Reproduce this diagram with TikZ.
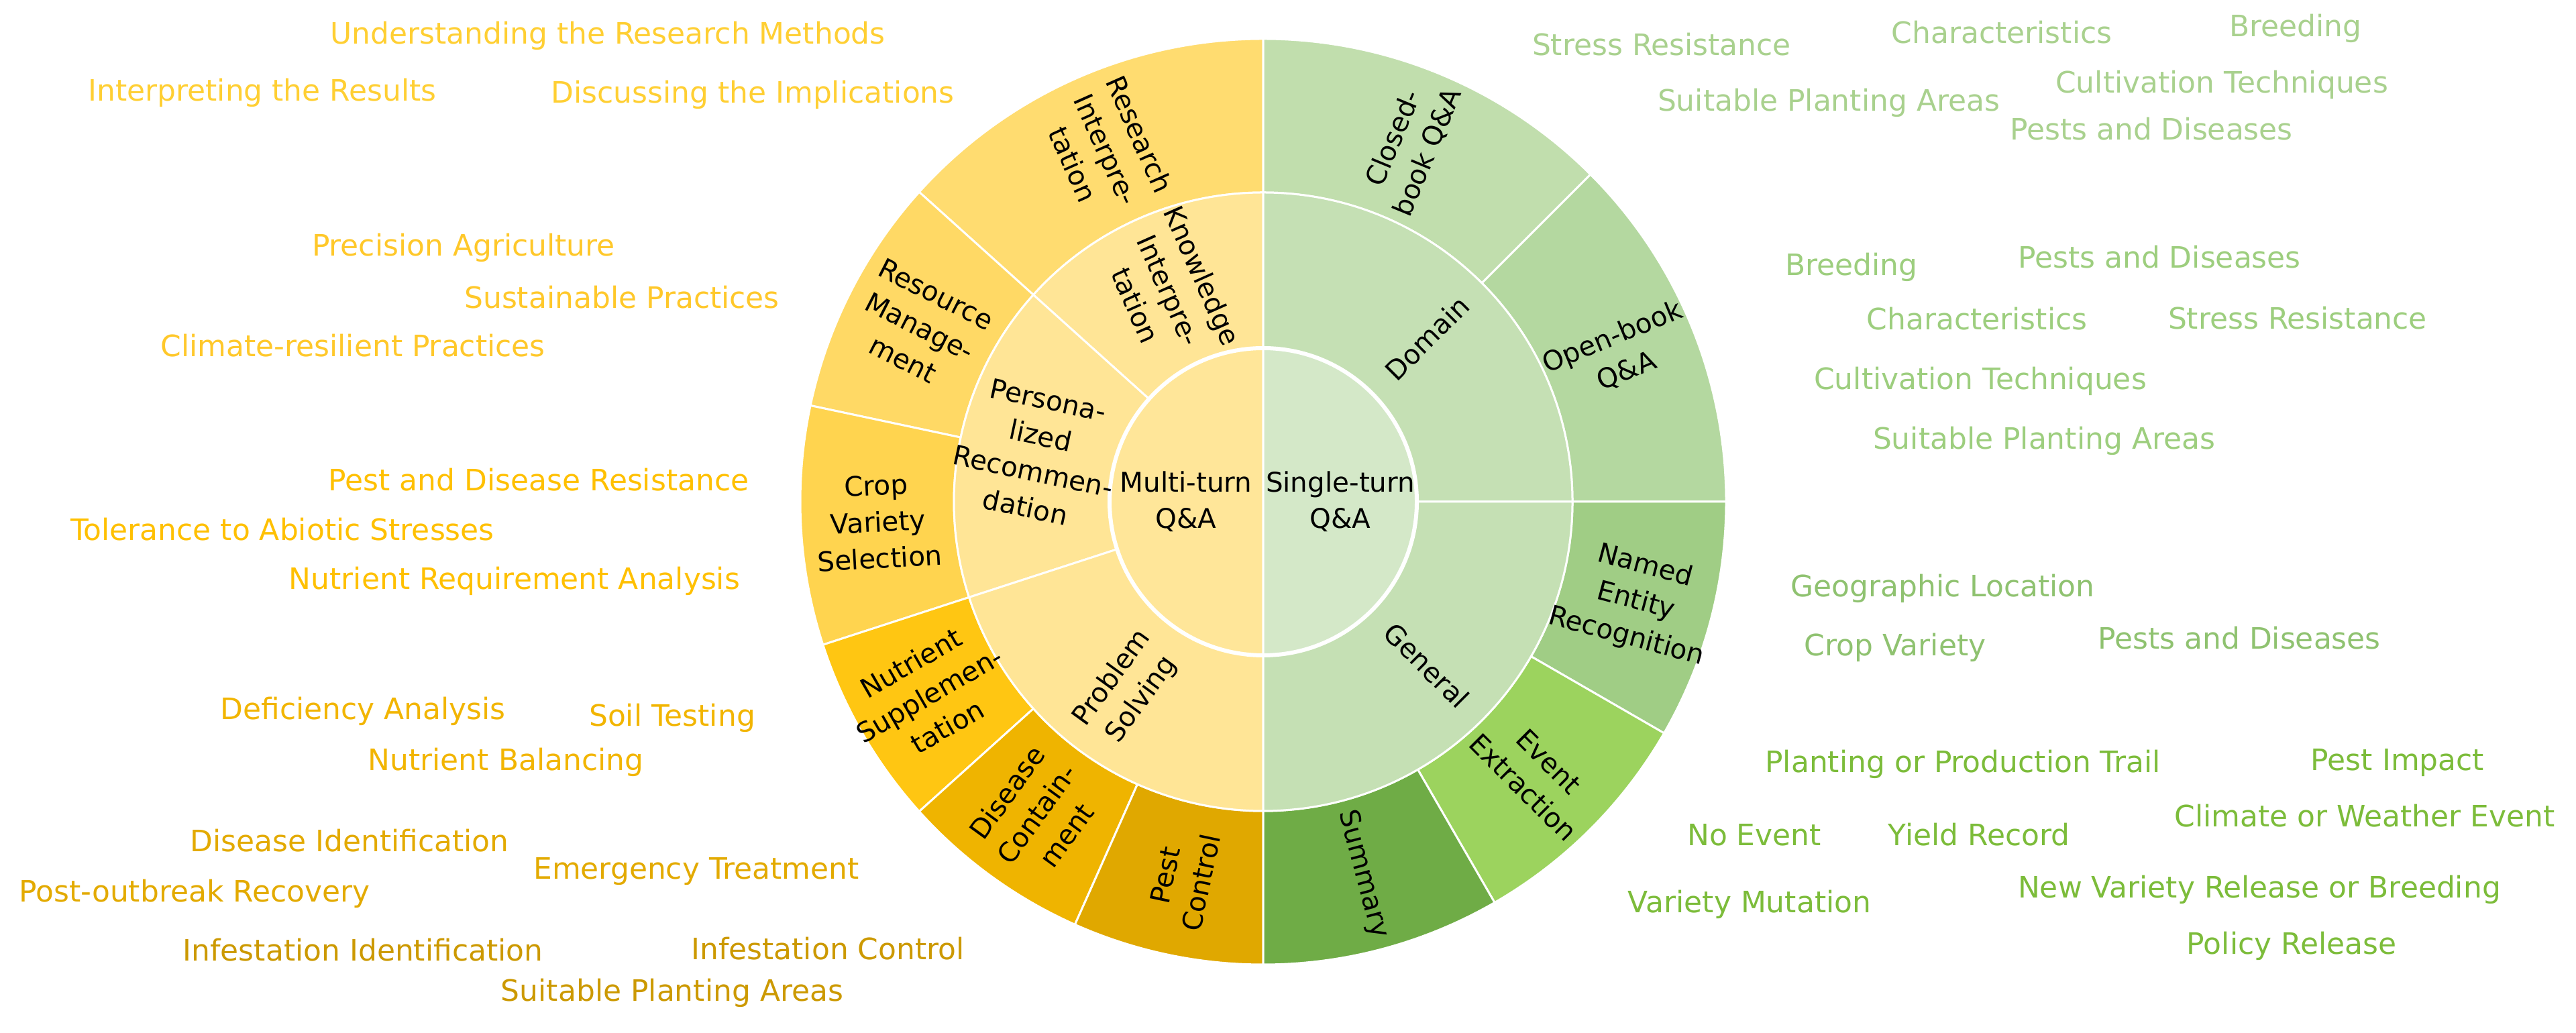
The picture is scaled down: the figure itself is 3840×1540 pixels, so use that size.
\documentclass[tikz,border=0pt]{standalone}
\usepackage{fontspec}
\setmainfont{DejaVu Sans}
% segment fills
\definecolor{cMT}{HTML}{FFE699}
\definecolor{cMid}{HTML}{FFE596}
\definecolor{cRI}{HTML}{FFDC70}
\definecolor{cRM}{HTML}{FFD965}
\definecolor{cCV}{HTML}{FFD44F}
\definecolor{cNS}{HTML}{FFC612}
\definecolor{cDC}{HTML}{EFB400}
\definecolor{cPC}{HTML}{E0A800}
\definecolor{cST}{HTML}{D4E8C8}
\definecolor{cDom}{HTML}{C5E0B4}
\definecolor{cCB}{HTML}{C1DEAD}
\definecolor{cOB}{HTML}{B4D8A0}
\definecolor{cNE}{HTML}{A0CD85}
\definecolor{cEE}{HTML}{9CD35E}
\definecolor{cSU}{HTML}{6FAC46}
% leaf text colours
\definecolor{tRI}{HTML}{FFCF33}
\definecolor{tRM}{HTML}{FFC82A}
\definecolor{tCV}{HTML}{FFC000}
\definecolor{tNS}{HTML}{F2B500}
\definecolor{tDC}{HTML}{E3AA00}
\definecolor{tPC}{HTML}{CC9900}
\definecolor{tCB}{HTML}{A9D18E}
\definecolor{tOB}{HTML}{9DCE7E}
\definecolor{tNE}{HTML}{8FC270}
\definecolor{tEE}{HTML}{7CBC3A}
\newcommand{\sbwedge}[5]{%
  \filldraw[seg, fill=#5] (#1:#3) arc[start angle=#1, end angle=#2, radius=#3]
    -- (#2:#4) arc[start angle=#2, end angle=#1, radius=#4] -- cycle;}
\begin{document}
\begin{tikzpicture}[x=0.01cm,y=0.01cm,
  seg/.style={draw=white, line width=0.03cm, line join=round},
  leaf/.style={font=\fontsize{12.5}{15}\selectfont, anchor=mid, inner sep=0pt},
  rlab/.style={font=\fontsize{11.5}{15.5}\selectfont, align=center, inner sep=0pt, text=black}]
\useasboundingbox (0,0) rectangle (3840,1540);
\fill[white] (0,0) rectangle (3840,1540);
\begin{scope}[shift={(1883,792)}]
  % outer ring, left (multi-turn)
  \sbwedge{90}{138}{461}{690}{cRI}
  \sbwedge{138}{168}{461}{690}{cRM}
  \sbwedge{168}{198}{461}{690}{cCV}
  \sbwedge{198}{222}{461}{690}{cNS}
  \sbwedge{222}{246}{461}{690}{cDC}
  \sbwedge{246}{270}{461}{690}{cPC}
  % outer ring, right (single-turn)
  \sbwedge{45}{90}{461}{690}{cCB}
  \sbwedge{0}{45}{461}{690}{cOB}
  \sbwedge{-30}{0}{461}{690}{cNE}
  \sbwedge{-60}{-30}{461}{690}{cEE}
  \sbwedge{-90}{-60}{461}{690}{cSU}
  % middle ring
  \sbwedge{90}{138}{229}{461}{cMid}
  \sbwedge{138}{198}{229}{461}{cMid}
  \sbwedge{198}{270}{229}{461}{cMid}
  \sbwedge{0}{90}{229}{461}{cDom}
  \sbwedge{-90}{0}{229}{461}{cDom}
  % inner circle
  \filldraw[seg, fill=cMT] (0,0) -- (90:229) arc[start angle=90, end angle=270, radius=229] -- cycle;
  \filldraw[seg, fill=cST] (0,0) -- (-90:229) arc[start angle=-90, end angle=90, radius=229] -- cycle;
  \draw[white, line width=0.06cm] (0,0) circle[radius=229];
  % labels: inner
  \node[rlab] (mt) at (180:115) {Multi-turn\\Q\&A};
  \node[rlab] (st) at (0:115) {Single-turn\\Q\&A};
  % labels: middle
  \node[rlab, rotate=-66] (ki) at (114:345) {Knowledge\\Interpre-\\tation};
  \node[rlab, rotate=-12] (pr) at (168:345) {Persona-\\lized\\Recommen-\\dation};
  \node[rlab, rotate=54] (ps) at (234:345) {Problem\\Solving};
  \node[rlab, rotate=45] (dm) at (45:345) {Domain};
  \node[rlab, rotate=-45] (gn) at (-45:345) {General};
  % labels: outer
  \node[rlab, rotate=-66] (ri) at (114:575) {Research\\Interpre-\\tation};
  \node[rlab, rotate=-27] (rm) at (153:575) {Resource\\Manage-\\ment};
  \node[rlab, rotate=3] (cv) at (183:575) {Crop\\Variety\\Selection};
  \node[rlab, rotate=30] (ns) at (210:575) {Nutrient\\Supplemen-\\tation};
  \node[rlab, rotate=54] (dc) at (234:575) {Disease\\Contain-\\ment};
  \node[rlab, rotate=78] (pc) at (258:575) {Pest\\Control};
  \node[rlab, rotate=67.5] (cb) at (67.5:575) {Closed-\\book Q\&A};
  \node[rlab, rotate=22.5] (ob) at (22.5:575) {Open-book\\Q\&A};
  \node[rlab, rotate=-15] (ne) at (-15:575) {Named\\Entity\\Recognition};
  \node[rlab, rotate=-45] (ee) at (-45:575) {Event\\Extraction};
  \node[rlab, rotate=-75] (su) at (-75:575) {Summary};
\end{scope}
% leaves, left
\node[leaf, text=tRI] (l1) at (906,1484) {Understanding the Research Methods};
\node[leaf, text=tRI] (l2) at (391,1399) {Interpreting the Results};
\node[leaf, text=tRI] (l3) at (1122,1396) {Discussing the Implications};
\node[leaf, text=tRM] (l4) at (691,1168) {Precision Agriculture};
\node[leaf, text=tRM] (l5) at (927,1090) {Sustainable Practices};
\node[leaf, text=tRM] (l6) at (526,1018) {Climate-resilient Practices};
\node[leaf, text=tCV] (l7) at (803,818) {Pest and Disease Resistance};
\node[leaf, text=tCV] (l8) at (421,744) {Tolerance to Abiotic Stresses};
\node[leaf, text=tCV] (l9) at (767,671) {Nutrient Requirement Analysis};
\node[leaf, text=tNS] (l10) at (541,477) {Deficiency Analysis};
\node[leaf, text=tNS] (l11) at (1002,467) {Soil Testing};
\node[leaf, text=tNS] (l12) at (754,401) {Nutrient Balancing};
\node[leaf, text=tDC] (l13) at (521,280) {Disease Identification};
\node[leaf, text=tDC] (l14) at (1038,239) {Emergency Treatment};
\node[leaf, text=tDC] (l15) at (290,205) {Post-outbreak Recovery};
\node[leaf, text=tPC] (l16) at (541,117) {Infestation Identification};
\node[leaf, text=tPC] (l17) at (1234,119) {Infestation Control};
\node[leaf, text=tPC] (l18) at (1002,57) {Suitable Planting Areas};
% leaves, right
\node[leaf, text=tCB] (r1) at (2477,1467) {Stress Resistance};
\node[leaf, text=tCB] (r2) at (2984,1485) {Characteristics};
\node[leaf, text=tCB] (r3) at (3422,1495) {Breeding};
\node[leaf, text=tCB] (r4) at (2726,1384) {Suitable Planting Areas};
\node[leaf, text=tCB] (r5) at (3312,1411) {Cultivation Techniques};
\node[leaf, text=tCB] (r6) at (3207,1341) {Pests and Diseases};
\node[leaf, text=tOB] (r7) at (2760,1139) {Breeding};
\node[leaf, text=tOB] (r8) at (3219,1150) {Pests and Diseases};
\node[leaf, text=tOB] (r9) at (2947,1058) {Characteristics};
\node[leaf, text=tOB] (r10) at (3425,1059) {Stress Resistance};
\node[leaf, text=tOB] (r11) at (2952,969) {Cultivation Techniques};
\node[leaf, text=tOB] (r12) at (3047,880) {Suitable Planting Areas};
\node[leaf, text=tNE] (r13) at (2896,660) {Geographic Location};
\node[leaf, text=tNE] (r14) at (2825,572) {Crop Variety};
\node[leaf, text=tNE] (r15) at (3338,582) {Pests and Diseases};
\node[leaf, text=tEE] (r16) at (2926,398) {Planting or Production Trail};
\node[leaf, text=tEE] (r17) at (3574,401) {Pest Impact};
\node[leaf, text=tEE] (r18) at (3525,317) {Climate or Weather Event};
\node[leaf, text=tEE] (r19) at (2615,289) {No Event};
\node[leaf, text=tEE] (r20) at (2950,289) {Yield Record};
\node[leaf, text=tEE] (r21) at (2608,189) {Variety Mutation};
\node[leaf, text=tEE] (r22) at (3368,211) {New Variety Release or Breeding};
\node[leaf, text=tEE] (r23) at (3416,127) {Policy Release};
\end{tikzpicture}
\end{document}
